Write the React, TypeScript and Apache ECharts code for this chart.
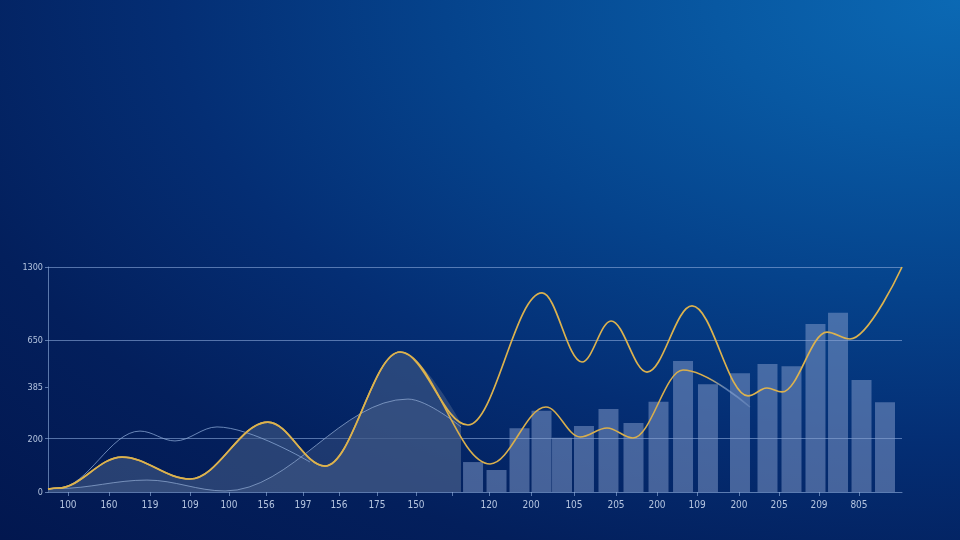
import React, { useEffect, useRef } from "react";
import * as echarts from "echarts";

// X axis: positions (0–100 across the plot) and the tick labels shown there
const xTickPositions = [2.34, 7.14, 11.94, 16.63, 21.19, 25.53, 29.86, 34.07, 38.52, 43.09, 47.31, 51.64, 56.56, 61.59, 66.51, 71.31, 76.0, 80.91, 85.6, 90.28, 94.96];
const xTickLabels = ["100", "160", "119", "109", "100", "156", "197", "156", "175", "150", "", "120", "200", "105", "205", "200", "109", "200", "205", "209", "805"];

// Y axis: internal values and their labels
const yTickValues = [0, 308, 604, 876, 1300];
const yTickLabels = ["0", "200", "385", "650", "1300"];
const gridLineValues = [308, 876, 1300];

// Gold line, shared left part (start up to the big peak)
const goldLeftX = [0, 1.17, 8.67, 16.63, 25.76, 32.44, 41.22];
const goldLeftY = [17, 23, 202, 75, 404, 150, 809];

// Gold line 1, upper branch of the right section
const gold1RightX = [49.18, 57.85, 62.53, 65.93, 70.14, 75.41, 81.97, 84.19, 85.95, 91.22, 93.91, 100];
const gold1RightY = [387, 1150, 751, 988, 693, 1075, 555, 601, 578, 924, 884, 1300];

// Gold line 2, lower branch of the right section (fades out at its end)
const gold2RightX = [51.76, 58.31, 62.3, 65.46, 68.5, 74.36, 82.2];
const gold2RightY = [162, 491, 318, 370, 312, 705, 491];

// End of the filled area under the gold line (edge of the bar section)
const goldFillEndX = [48.36];
const goldFillEndY = [399];

// Pale line 1 (upper pale wave, left)
const pale1X = [0, 1.17, 10.77, 14.87, 19.79, 30.68];
const pale1Y = [17, 23, 352, 295, 376, 173];

// Pale line 2 (low wave rising to the wide hump)
const pale2X = [0, 1.17, 11.59, 20.73, 42.15, 48.36];
const pale2Y = [17, 20, 69, 6, 537, 376];

// Bars (right section)
const barX = [49.77, 52.52, 55.21, 57.79, 60.19, 62.76, 65.63, 68.56, 71.49, 74.36, 77.28, 81.03, 84.25, 87.06, 89.87, 92.51, 95.26, 98.01];
const barY = [173, 127, 368, 470, 314, 381, 480, 399, 522, 757, 622, 686, 740, 726, 971, 1036, 647, 518];

const zip = (xs: number[], ys: number[]) => xs.map((x, i) => [x, ys[i]]);

const labelColor = "#b4c4df";
const axisColor = "rgba(150,180,225,0.6)";
const fontFamily = "'Liberation Sans Narrow', 'DejaVu Sans Condensed', Roboto, sans-serif";
const SMOOTH = 0.36;

function labelFor(values: number[], labels: string[], v: number) {
  for (let i = 0; i < values.length; i++) {
    if (Math.abs(values[i] - v) < 0.01) return labels[i];
  }
  return "";
}

export default function App() {
  const ref = useRef<HTMLDivElement>(null);

  useEffect(() => {
    if (!ref.current) return;
    const chart = echarts.init(ref.current, undefined, { renderer: "svg" });

    const xLabelValues = xTickPositions.filter((_, i) => xTickLabels[i] !== "");

    const gold1 = zip(goldLeftX.concat(gold1RightX), goldLeftY.concat(gold1RightY));
    const gold2 = zip(goldLeftX.concat(gold2RightX), goldLeftY.concat(gold2RightY));
    const goldFill = zip(goldLeftX.concat(goldFillEndX), goldLeftY.concat(goldFillEndY));

    const lineBase = {
      type: "line",
      smooth: SMOOTH,
      smoothMonotone: "x",
      symbol: "none",
      silent: true,
    };

    chart.setOption({
      animation: false,
      backgroundColor: "transparent",
      grid: { left: 48, right: 58, top: 267, bottom: 48, containLabel: false },
      xAxis: {
        type: "value",
        min: 0,
        max: 100,
        splitLine: { show: false },
        axisLine: { show: true, lineStyle: { color: axisColor, width: 1 } },
        axisTick: { show: true, customValues: xTickPositions, length: 4, lineStyle: { color: axisColor } },
        axisLabel: {
          customValues: xLabelValues,
          formatter: (v: number) => labelFor(xTickPositions, xTickLabels, v),
          color: labelColor,
          fontSize: 10,
          fontFamily,
          margin: 7,
        },
      },
      yAxis: {
        type: "value",
        min: 0,
        max: 1300,
        splitLine: { show: false },
        axisLine: { show: true, lineStyle: { color: axisColor, width: 1 } },
        axisTick: { show: true, customValues: yTickValues, length: 3, lineStyle: { color: axisColor } },
        axisLabel: {
          customValues: yTickValues,
          formatter: (v: number) => labelFor(yTickValues, yTickLabels, v),
          color: labelColor,
          fontSize: 9,
          fontFamily,
          margin: 5,
        },
      },
      series: [
        {
          ...lineBase,
          name: "goldFill",
          data: goldFill,
          lineStyle: { width: 0 },
          areaStyle: { color: "rgba(66,90,135,0.85)", origin: "start" },
          z: 1,
          markLine: {
            silent: true,
            symbol: "none",
            label: { show: false },
            lineStyle: { color: "rgba(140,170,220,0.6)", width: 1, type: "solid" },
            data: gridLineValues.map((v) => ({ yAxis: v })),
            z: 0,
          },
        },
        {
          ...lineBase,
          name: "paleFill",
          data: zip(pale2X, pale2Y),
          lineStyle: { width: 0 },
          areaStyle: { color: "rgba(66,90,135,0.6)", origin: "start" },
          z: 1,
        },
        {
          name: "bars",
          type: "bar",
          data: zip(barX, barY),
          barWidth: 20,
          itemStyle: { color: "rgba(135,160,205,0.5)" },
          z: 2,
          silent: true,
        },
        {
          ...lineBase,
          name: "pale1",
          data: zip(pale1X, pale1Y),
          lineStyle: { color: "rgba(140,170,215,0.75)", width: 1 },
          z: 3,
        },
        {
          ...lineBase,
          name: "pale2",
          data: zip(pale2X, pale2Y),
          lineStyle: { color: "rgba(150,175,215,0.7)", width: 1 },
          z: 3,
        },
        {
          ...lineBase,
          name: "gold2",
          data: gold2,
          lineStyle: {
            width: 1.6,
            color: new echarts.graphic.LinearGradient(0, 0, 1, 0, [
              { offset: 0, color: "#d8ae4c" },
              { offset: 0.94, color: "#d8ae4c" },
              { offset: 0.965, color: "rgba(160,185,225,0.55)" },
              { offset: 1, color: "rgba(160,185,225,0.25)" },
            ]),
          },
          z: 4,
        },
        {
          ...lineBase,
          name: "gold1",
          data: gold1,
          lineStyle: { color: "#dcb24e", width: 1.7 },
          z: 5,
        },
      ],
    });

    return () => chart.dispose();
  }, []);

  return (
    <div
      style={{
        position: "fixed",
        left: 0,
        top: 0,
        width: 960,
        height: 540,
        background:
          "radial-gradient(ellipse at 100% 0%, #0b69b4 0%, #0858a2 18%, #05438c 38%, #042e74 58%, #031f5c 78%, #02174f 100%)",
      }}
    >
      <div ref={ref} style={{ width: 960, height: 540 }} />
    </div>
  );
}
